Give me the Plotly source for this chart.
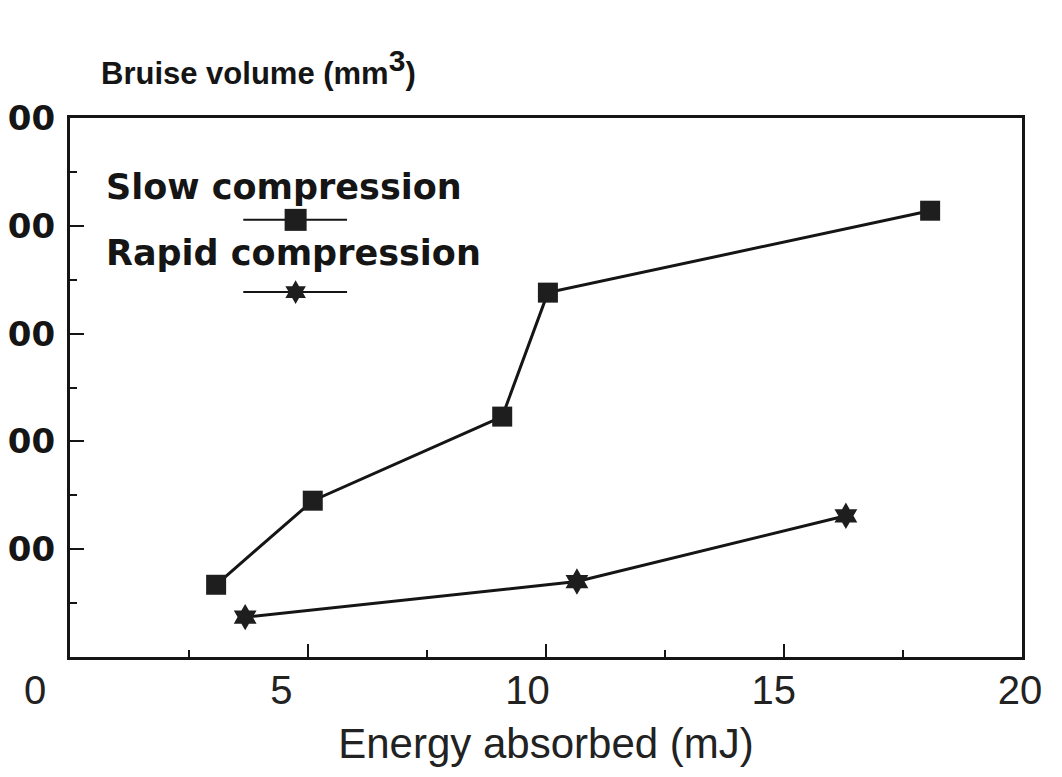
import plotly.graph_objects as go

# ---- data ----
slow_x = [3.07, 5.10, 9.08, 10.04, 18.07]
slow_y = [67, 145, 223, 338, 414]
rapid_x = [3.68, 10.65, 16.30]
rapid_y = [37, 70, 131]

x_tick_vals = [0, 5, 10, 15, 20]
x_tick_text = ["0", "5", "10", "15", "20"]
y_tick_vals = [100, 200, 300, 400, 500]
y_tick_text = ["00", "00", "00", "00", "00"]

series_names = ["Slow compression", "Rapid compression"]
legend_seg_x = [0.182, 0.291]
legend_mark_x = [0.237]
legend_seg_y = [0.811, 0.677]

W, H = 1062, 777
L, R, T, B = 35, 40, 118, 120
plot_w = W - L - R
x_dom0 = (70 - L) / plot_w

INK = "#151515"
BOLD = dict(family="DejaVu Sans", weight="bold", color=INK)
ARIALB = dict(family="Liberation Sans", weight="bold", color=INK)
REG = "Liberation Sans"

fig = go.Figure()

fig.add_trace(go.Scatter(
    x=slow_x, y=slow_y, mode="lines+markers", name=series_names[0],
    line=dict(color=INK, width=3),
    marker=dict(symbol="square", size=20, color="#1e1e1e"),
    showlegend=False, cliponaxis=False))
fig.add_trace(go.Scatter(
    x=rapid_x, y=rapid_y, mode="lines+markers", name=series_names[1],
    line=dict(color=INK, width=3),
    marker=dict(symbol="hexagram", size=20, color="#1e1e1e"),
    showlegend=False, cliponaxis=False))

# carrier trace for the tick-label axis (own subplot x2/y2)
fig.add_trace(go.Scatter(x=[None], y=[None], xaxis="x2", yaxis="y2",
                         showlegend=False, hoverinfo="skip"))

# legend samples (own subplot x3/y3, 0..1 frame)
for i, sym in enumerate(["square", "hexagram"]):
    yy = legend_seg_y[i]
    fig.add_trace(go.Scatter(
        x=legend_seg_x, y=[yy, yy], xaxis="x3", yaxis="y3",
        mode="lines", showlegend=False, hoverinfo="skip",
        line=dict(color=INK, width=2)))
    fig.add_trace(go.Scatter(
        x=legend_mark_x, y=[yy], xaxis="x3", yaxis="y3",
        mode="markers", showlegend=False, hoverinfo="skip",
        marker=dict(symbol=sym, size=22 if sym == "square" else 18,
                    color="#1e1e1e", opacity=1,
                    line=dict(width=0))))

fig.update_layout(
    width=W, height=H,
    margin=dict(l=L, r=R, t=T, b=B, autoexpand=False),
    paper_bgcolor="white", plot_bgcolor="rgba(0,0,0,0)",
    showlegend=False,
    xaxis=dict(
        domain=[x_dom0, 1], range=[0, 20], anchor="y",
        showgrid=False, zeroline=False,
        showline=True, linewidth=3, linecolor=INK, mirror=True,
        ticks="inside", ticklen=13, tickwidth=2, tickcolor=INK,
        tickvals=[5, 10, 15, 20], showticklabels=False,
        minor=dict(tickvals=[2.5, 7.5, 12.5, 17.5], ticks="inside",
                   ticklen=7, tickwidth=2, tickcolor=INK),
        title=dict(text="Energy absorbed (mJ)",
                   font=dict(family=REG, size=42, color="#222222"),
                   standoff=70),
    ),
    yaxis=dict(
        domain=[0, 1], range=[0, 500], anchor="x",
        showgrid=False, zeroline=False,
        showline=True, linewidth=3, linecolor=INK, mirror=True,
        ticks="inside", ticklen=14, tickwidth=2, tickcolor=INK,
        tickvals=y_tick_vals, ticktext=y_tick_text,
        tickfont=dict(size=34, **BOLD),
        ticklabelstandoff=5,
        minor=dict(tickvals=[50, 150, 250, 350, 450], ticks="inside",
                   ticklen=7, tickwidth=2, tickcolor=INK),
    ),
    xaxis2=dict(
        domain=[0, 1], range=[0, 20.04], anchor="y2", side="bottom",
        showgrid=False, zeroline=False, showline=False, ticks="",
        tickvals=x_tick_vals, ticktext=x_tick_text,
        tickfont=dict(family=REG, size=40, color="#222222"),
        ticklabelstandoff=6,
    ),
    yaxis2=dict(domain=[0, 1], range=[0, 1], anchor="x2", visible=False),
    xaxis3=dict(domain=[x_dom0, 1], range=[0, 1], anchor="y3", visible=False),
    yaxis3=dict(domain=[0, 1], range=[0, 1], anchor="x3", visible=False),
)

def px_x(p):
    return (p - L) / plot_w

def px_y(p):
    return (H - B - p) / (H - T - B)

fig.add_annotation(
    text="Bruise volume (mm<sup><span style='font-size:30px'>3</span></sup>)",
    xref="paper", yref="paper",
    x=px_x(99), y=px_y(68), xanchor="left", yanchor="middle",
    showarrow=False, font=dict(size=31, **ARIALB))
fig.add_annotation(text=series_names[0], xref="paper", yref="paper",
                   x=px_x(104), y=px_y(187), xanchor="left", yanchor="middle",
                   showarrow=False, font=dict(size=35, **BOLD))
fig.add_annotation(text=series_names[1], xref="paper", yref="paper",
                   x=px_x(104), y=px_y(253), xanchor="left", yanchor="middle",
                   showarrow=False, font=dict(size=35, **BOLD))

fig.write_html("out.html")
